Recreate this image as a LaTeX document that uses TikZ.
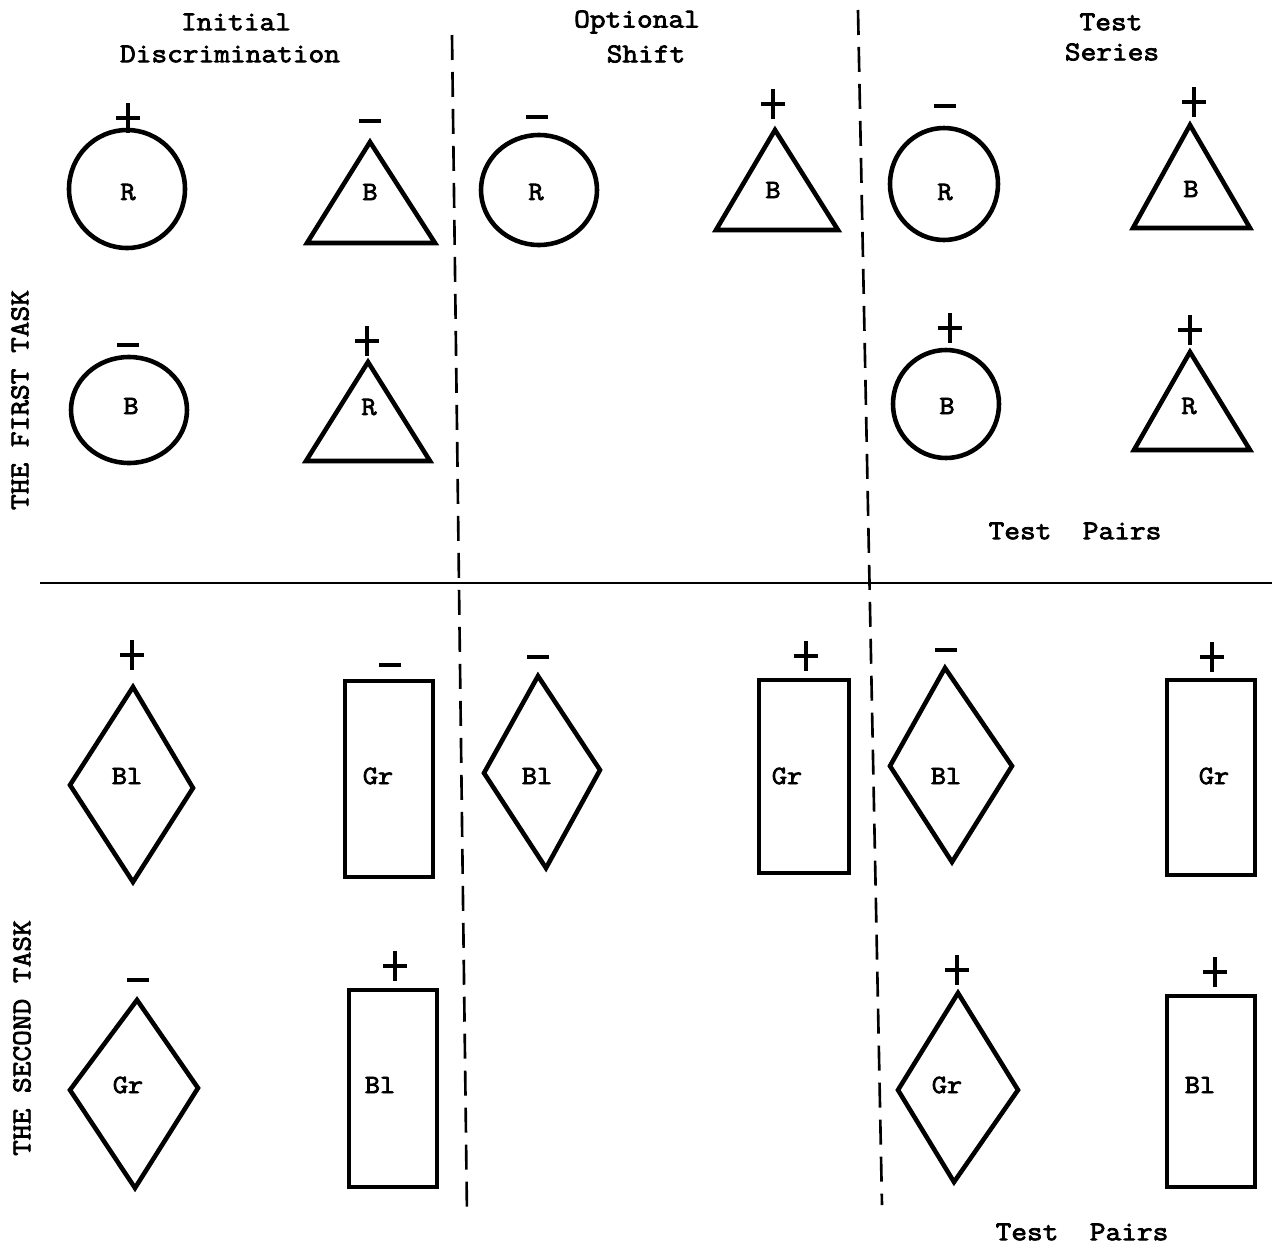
\documentclass[tikz,border=0pt]{standalone}
\usepackage{fontspec}
\newfontfamily\tw[FakeStretch=1.12,FakeBold=2.8]{Latin Modern Mono}
\begin{document}
\begin{tikzpicture}[x=0.02cm,y=-0.02cm,
  fig/.style={line width=2.6pt,line join=miter},
  signline/.style={line width=2.7pt},
  divider/.style={line width=1.5pt,dash pattern=on 0.5cm off 0.24cm},
  rule/.style={line width=1.5pt},
  txt/.style={inner sep=0pt,font=\tw\fontsize{15.5}{18}\selectfont},
  lbl/.style={inner sep=0pt,font=\tw\fontsize{15}{18}\selectfont},
  pics/plussign/.style={code={\draw[signline] (-12,0)--(12,0) (0,-15)--(0,15);}},
  pics/minussign/.style={code={\draw[signline] (-11,0)--(11,0);}}]
\useasboundingbox (0,0) rectangle (1276,1248);

% headers
\node[txt] (h1a) at (236,22) {Initial};
\node[txt] (h1b) at (230,54) {Discrimination};
\node[txt] (h2a) at (637,22) {Optional};
\node[txt] (h2b) at (646,54) {Shift};
\node[txt] (h3a) at (1111,22) {Test};
\node[txt] (h3b) at (1112,52) {Series};

% side labels
\node[txt,rotate=90] (t1) at (20,400) {THE FIRST TASK};
\node[txt,rotate=90] (t2) at (22,1038) {THE SECOND TASK};

% dividers
\coordinate (d1a) at (452,35);
\coordinate (d1b) at (467,1215);
\coordinate (d2a) at (858,10);
\coordinate (d2b) at (882,1205);
\coordinate (ha) at (40,583);
\coordinate (hb) at (1272,583);
\draw[divider] (d1a) -- (d1b);
\draw[divider] (d2a) -- (d2b);
\draw[rule] (ha) -- (hb);

% ---------- first task, row 1
\draw[fig] (127,189) ellipse [x radius=58, y radius=59];
\node[lbl] (r1) at (128,192) {R};
\pic at (128,118) {plussign};

\draw[fig] (370,142) -- (435,243) -- (307,243) -- cycle;
\node[lbl] (b1) at (370,192) {B};
\pic at (370,121) {minussign};

\draw[fig] (539,190) ellipse [x radius=58, y radius=55];
\node[lbl] (r2) at (536,192) {R};
\pic at (537,117) {minussign};

\draw[fig] (775,130) -- (838,230) -- (716,230) -- cycle;
\node[lbl] (b2) at (773,190) {B};
\pic at (773,104) {plussign};

\draw[fig] (944,184) ellipse [x radius=54, y radius=56];
\node[lbl] (r3) at (945,192) {R};
\pic at (945,106) {minussign};

\draw[fig] (1190,125) -- (1250,228) -- (1133,228) -- cycle;
\node[lbl] (b3) at (1191,189) {B};
\pic at (1194,102) {plussign};

% ---------- first task, row 2
\draw[fig] (129,410) ellipse [x radius=58, y radius=53];
\node[lbl] (b4) at (131,406) {B};
\pic at (128,345) {minussign};

\draw[fig] (368,362) -- (430,461) -- (306,461) -- cycle;
\node[lbl] (r4) at (369,407) {R};
\pic at (367,341) {plussign};

\draw[fig] (946,404) ellipse [x radius=53, y radius=54];
\node[lbl] (b5) at (947,406) {B};
\pic at (950,328) {plussign};

\draw[fig] (1190,352) -- (1250,450) -- (1134,450) -- cycle;
\node[lbl] (r5) at (1189,406) {R};
\pic at (1190,330) {plussign};

\node[txt] (tp1) at (1075,531) {Test\ \ Pairs};

% ---------- second task, row 1
\draw[fig] (133,687) -- (193,788) -- (133,882) -- (70,785) -- cycle;
\node[lbl] (bl1) at (127,776) {Bl};
\pic at (132,655) {plussign};

\draw[fig] (345,681) rectangle (433,877);
\node[lbl] (gr1) at (378,776) {Gr};
\pic at (390,665) {minussign};

\draw[fig] (538,676) -- (600,770) -- (546,868) -- (484,773) -- cycle;
\node[lbl] (bl2) at (537,776) {Bl};
\pic at (538,657) {minussign};

\draw[fig] (759,680) rectangle (849,873);
\node[lbl] (gr2) at (787,776) {Gr};
\pic at (806,656) {plussign};

\draw[fig] (945,668) -- (1012,766) -- (952,862) -- (890,766) -- cycle;
\node[lbl] (bl3) at (946,776) {Bl};
\pic at (946,650) {minussign};

\draw[fig] (1167,680) rectangle (1255,875);
\node[lbl] (gr3) at (1214,776) {Gr};
\pic at (1212,657) {plussign};

% ---------- second task, row 2
\draw[fig] (137,1000) -- (198,1088) -- (135,1188) -- (70,1090) -- cycle;
\node[lbl] (gr4) at (128,1085) {Gr};
\pic at (138,980) {minussign};

\draw[fig] (349,990) rectangle (437,1187);
\node[lbl] (bl4) at (380,1085) {Bl};
\pic at (395,966) {plussign};

\draw[fig] (958,993) -- (1018,1090) -- (954,1182) -- (898,1090) -- cycle;
\node[lbl] (gr5) at (947,1085) {Gr};
\pic at (957,970) {plussign};

\draw[fig] (1167,996) rectangle (1255,1187);
\node[lbl] (bl5) at (1200,1085) {Bl};
\pic at (1215,972) {plussign};

\node[txt] (tp2) at (1082,1232) {Test\ \ Pairs};
\end{tikzpicture}
\end{document}
